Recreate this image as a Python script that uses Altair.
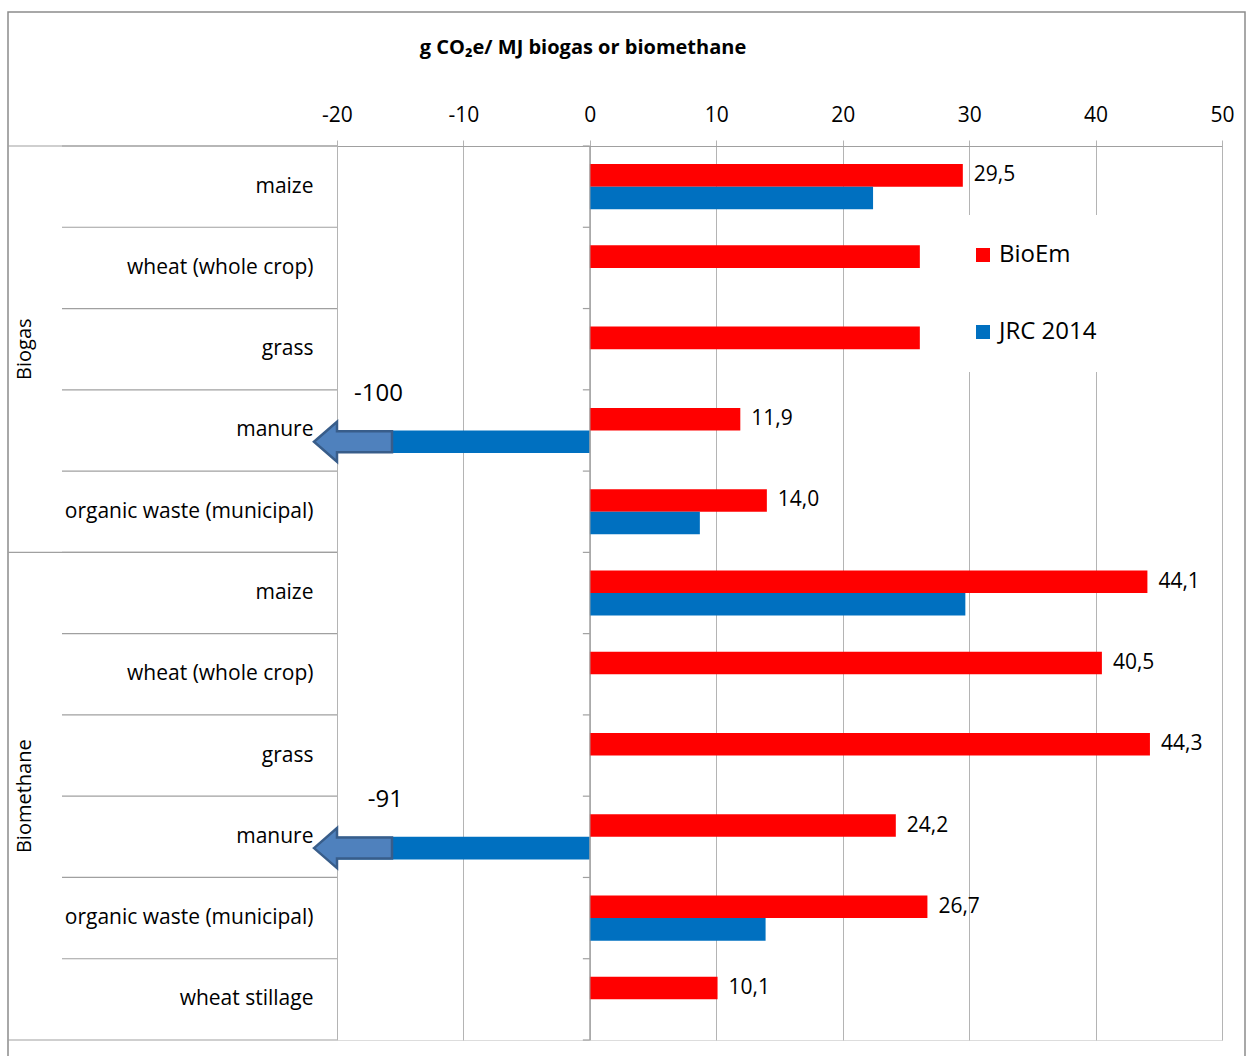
import altair as alt
import pandas as pd

# Life-cycle emissions per feedstock, biogas and biomethane pathways
groups = ["Biogas"] * 5 + ["Biomethane"] * 6
feedstocks = [
    "maize", "wheat (whole crop)", "grass", "manure", "organic waste (municipal)",
    "maize", "wheat (whole crop)", "grass", "manure", "organic waste (municipal)",
    "wheat stillage",
]
bioem = [29.5, 26.1, 26.1, 11.9, 14.0, 44.1, 40.5, 44.3, 24.2, 26.7, 10.1]
jrc2014 = [22.4, None, None, -100, 8.7, 29.7, None, None, -91, 13.9, None]
bioem_labelled = [True, False, False, True, True, True, True, True, True, True, True]

series = ["BioEm", "JRC 2014"]
series_colors = ["#ff0000", "#0070c0"]
x_ticks = [-20, -10, 0, 10, 20, 30, 40, 50]
X_MIN, X_MAX = -20, 50
TITLE = "g CO₂e/ MJ biogas or biomethane"

FONT = "Open Sans"
GRID = "#b4b4b4"
LINE = "#a0a0a0"

keys = [f"{g}|{f}" for g, f in zip(groups, feedstocks)]

records = []
for i, k in enumerate(keys):
    records.append({"key": k, "group": groups[i], "series": "BioEm",
                    "value": bioem[i], "labelled": bioem_labelled[i]})
    if jrc2014[i] is not None:
        records.append({"key": k, "group": groups[i], "series": "JRC 2014",
                        "value": jrc2014[i], "labelled": False})
df = pd.DataFrame(records)

rows_df = pd.DataFrame({"key": keys, "group": groups,
                        "first": [i == 0 or groups[i] != groups[i - 1] for i in range(len(keys))]})

W, H = 885, 894
LABEL_AREA = 329  # pixel distance from frame edge to plot left

y_enc = alt.Y("key:N", sort=keys, scale=alt.Scale(paddingInner=0, paddingOuter=0),
              axis=alt.Axis(title=None, labelExpr="split(datum.label, '|')[1]", ticks=False,
                            domain=False, labelPadding=24, labelFontSize=21, labelFont=FONT,
                            labelColor="#000000", labelLimit=400, grid=False))
yoff = alt.YOffset("series:N", scale=alt.Scale(domain=series, paddingOuter=0.8, paddingInner=0))
x_enc = alt.X("value:Q", scale=alt.Scale(domain=[X_MIN, X_MAX], nice=False),
              axis=alt.Axis(orient="top", values=x_ticks, title=None, grid=True,
                            gridColor=GRID, gridWidth=1, tickColor=GRID, tickSize=6,
                            domainColor=LINE, labelFontSize=21, labelFont=FONT,
                            labelColor="#000000", labelPadding=15, labelFlush=False,
                            labelExpr="'' + datum.value"))
color = alt.Color("series:N", scale=alt.Scale(domain=series, range=series_colors),
                  legend=alt.Legend(title=None, orient="none", legendX=606, legendY=69,
                                    fillColor="#ffffff", padding=28, symbolType="square",
                                    symbolSize=196, symbolStrokeWidth=0, labelFontSize=24,
                                    labelFont=FONT, labelColor="#000000", rowPadding=53,
                                    labelOffset=4))

base = alt.Chart(df)

frame = alt.Chart(pd.DataFrame({"a": [0]})).mark_rect(
    filled=False, stroke="#8c8c8c", strokeWidth=1.5).encode(
    x=alt.value(-LABEL_AREA), x2=alt.value(W + 23), y=alt.value(-134), y2=alt.value(H + 40))

title = alt.Chart(pd.DataFrame({"t": [TITLE]})).mark_text(
    align="center", baseline="middle", fontSize=20, font=FONT, fontWeight="bold",
    color="#000000").encode(x=alt.value(246), y=alt.value(-98), text="t:N")

bars = base.mark_bar(clip=True).encode(x=x_enc, y=y_enc, yOffset=yoff, color=color)

value_labels = base.transform_filter("datum.labelled").transform_calculate(
    label="replace(format(datum.value, '.1f'), '.', ',')"
).mark_text(align="left", baseline="middle", dx=11, fontSize=21, font=FONT, color="#000000").encode(
    x="value:Q", y=alt.Y("key:N", sort=keys), yOffset=yoff, text="label:N")

# Off-scale values: arrow where the bar leaves the axis range, plus the value
off_scale = base.transform_filter(f"datum.value < {X_MIN}").transform_calculate(
    xpos=f"max(datum.value, {X_MIN})", label="'' + datum.value")

ARROW = ("M -0.575 0 L 0 -0.5 L 0 -0.2625 L 1.375 -0.2625 L 1.375 0.2625 "
         "L 0 0.2625 L 0 0.5 Z")
arrows = off_scale.mark_point(shape=ARROW, size=6400, filled=True, fill="#4f81bd",
                              stroke="#385d8a", strokeWidth=2.5, opacity=1).encode(
    x="xpos:Q", y=alt.Y("key:N", sort=keys), yOffset=yoff)

off_labels = off_scale.mark_text(align="right", baseline="middle", dx=66, dy=4, fontSize=24,
                                 font=FONT, color="#000000").encode(
    x="xpos:Q", y=alt.Y("key:N", sort=keys, bandPosition=0), text="label:N")

rows = alt.Chart(rows_df)
row_lines = rows.mark_rule(color=LINE, strokeWidth=1.2).encode(
    x=alt.value(-275), x2=alt.value(0), y=alt.Y("key:N", sort=keys, bandPosition=0))
group_lines = rows.transform_filter("datum.first").mark_rule(color=LINE, strokeWidth=1.2).encode(
    x=alt.value(-LABEL_AREA), x2=alt.value(0), y=alt.Y("key:N", sort=keys, bandPosition=0))
bottom_line = rows.transform_window(rn="row_number()").transform_filter(
    f"datum.rn == {len(keys)}").mark_rule(color=LINE, strokeWidth=1.2).encode(
    x=alt.value(-LABEL_AREA), x2=alt.value(0), y=alt.Y("key:N", sort=keys, bandPosition=1))
zero_ticks = rows.mark_rule(color=LINE, strokeWidth=1.2, x2Offset=-7).encode(
    x=alt.datum(0), x2=alt.datum(0), y=alt.Y("key:N", sort=keys, bandPosition=0))
zero_ticks_end = rows.transform_window(rn="row_number()").transform_filter(
    f"datum.rn == {len(keys)}").mark_rule(color=LINE, strokeWidth=1.2, x2Offset=-7).encode(
    x=alt.datum(0), x2=alt.datum(0), y=alt.Y("key:N", sort=keys, bandPosition=1))
zero_line = rows.transform_window(rn="row_number()").transform_filter("datum.rn == 1").mark_rule(
    color=LINE, strokeWidth=1.2).encode(x=alt.datum(0), y=alt.value(0), y2=alt.value(H))

# Pathway labels, rotated and centred on their block of rows
group_layers = []
for g in ["Biogas", "Biomethane"]:
    idx = [i for i, gg in enumerate(groups) if gg == g]
    mid = (len(idx) - 1) / 2
    anchor = keys[idx[int(mid)]]
    bp = 0.5 + (mid - int(mid))
    group_layers.append(
        alt.Chart(pd.DataFrame({"key": [anchor], "group": [g]})).mark_text(
            angle=270, baseline="middle", align="center", fontSize=20, font=FONT,
            color="#000000").encode(
            x=alt.value(-312), y=alt.Y("key:N", sort=keys, bandPosition=bp), text="group:N"))

chart = alt.layer(
    frame, title, bars, zero_line, arrows, value_labels, off_labels,
    row_lines, group_lines, bottom_line, zero_ticks, zero_ticks_end, *group_layers,
).properties(
    width=W, height=H,
    autosize=alt.AutoSizeParams(type="none"),
    padding={"left": 337, "top": 146, "right": 24, "bottom": 16},
).configure_view(stroke=None).configure(background="#ffffff")

chart.save("out.html", embed_options={"renderer": "svg", "actions": False})
